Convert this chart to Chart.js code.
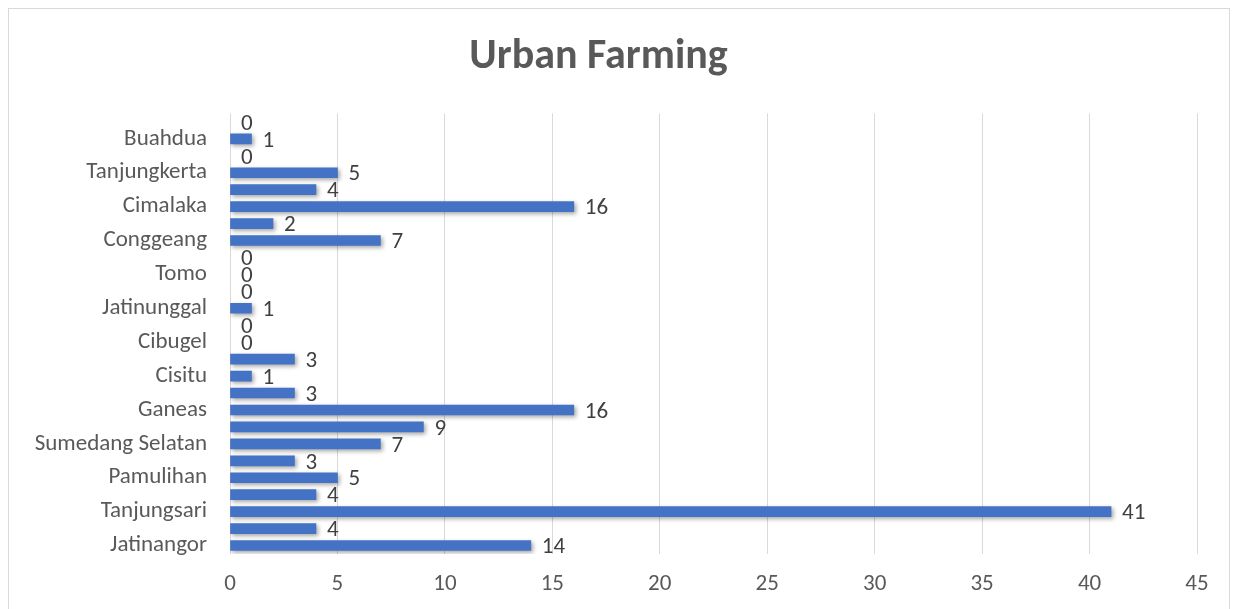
<!DOCTYPE html>
<html>
<head>
<meta charset="utf-8">
<script src="https://cdn.jsdelivr.net/npm/chart.js@4/dist/chart.umd.min.js"></script>
<style>
  html, body { margin: 0; padding: 0; background: #fff; }
  #frame { position: absolute; left: 8px; top: 8px; width: 1222px; height: 610px; border: 1px solid #d9d9d9; box-sizing: border-box; }
  #wrap { position: absolute; left: 0; top: 0; width: 1238px; height: 609px; }
</style>
</head>
<body>
<div id="frame"></div>
<div id="wrap"><canvas id="myChart"></canvas></div>
<script>
// kecamatan di Sumedang, dari bawah ke atas
var kecamatan = ['Jatinangor', 'Cimanggung', 'Tanjungsari', 'Sukasari', 'Pamulihan', 'Rancakalong',
    'Sumedang Selatan', 'Sumedang Utara', 'Ganeas', 'Situraja', 'Cisitu', 'Darmaraja',
    'Cibugel', 'Wado', 'Jatinunggal', 'Jatigede', 'Tomo', 'Ujungjaya', 'Conggeang', 'Paseh',
    'Cimalaka', 'Cisarua', 'Tanjungkerta', 'Tanjungmedar', 'Buahdua', 'Surian'];
var jumlah = [14, 4, 41, 4, 5, 3, 7, 9, 16, 3, 1, 3, 0, 0, 1, 0, 0, 0, 7, 2, 16, 4, 5, 0, 1, 0];
var xTicks = [0, 5, 10, 15, 20, 25, 30, 35, 40, 45];

var fontName = "Carlito, Lato, 'Liberation Sans', sans-serif";
var abu = '#595959';

// label angka di ujung bar
var labelBar = {
    id: 'labelBar',
    afterDatasetsDraw: function (chart) {
        var ctx = chart.ctx;
        var meta = chart.getDatasetMeta(0);
        ctx.save();
        ctx.font = '23px ' + fontName;
        ctx.fillStyle = '#404040';
        ctx.textAlign = 'left';
        ctx.textBaseline = 'middle';
        meta.data.forEach(function (bar, i) {
            ctx.fillText(String(jumlah[i]), bar.x + 11, bar.y + 2);
        });
        ctx.restore();
    }
};

// bayangan bar
var bayangan = {
    id: 'bayangan',
    beforeDatasetDraw: function (chart) {
        var ctx = chart.ctx;
        ctx.save();
        ctx.shadowColor = 'rgba(0,0,0,0.35)';
        ctx.shadowBlur = 4;
        ctx.shadowOffsetX = 2;
        ctx.shadowOffsetY = 2;
    },
    afterDatasetDraw: function (chart) {
        chart.ctx.restore();
    }
};

var ctx = document.getElementById('myChart');

var chartGraph = new Chart(ctx, {
    type: 'bar',
    data: {
        labels: kecamatan,
        datasets: [{
            label: 'Urban Farming',
            data: jumlah,
            backgroundColor: function (c) {
                return jumlah[c.dataIndex] === 0 ? 'rgba(0,0,0,0)' : '#4472C4';
            },
            borderWidth: 0,
            barThickness: 10
        }]
    },
    options: {
        indexAxis: 'y',
        responsive: true,
        maintainAspectRatio: false,
        animation: false,
        layout: { padding: { left: 0, right: 41, top: 0, bottom: 0 } },
        plugins: {
            legend: { display: false },
            tooltip: { enabled: false },
            title: {
                display: true,
                text: 'Urban Farming',
                color: abu,
                font: { family: fontName, size: 42, weight: 'bold' },
                padding: { top: 32, bottom: 31 }
            }
        },
        scales: {
            x: {
                min: 0,
                max: 45,
                afterBuildTicks: function (scale) {
                    scale.ticks = xTicks.map(function (v) { return { value: v }; });
                },
                afterFit: function (scale) { scale.height = 55; },
                grid: { color: '#d9d9d9', drawTicks: false },
                border: { display: false },
                ticks: { color: abu, font: { family: fontName, size: 23 }, padding: 16 }
            },
            y: {
                reverse: true,
                afterFit: function (scale) { scale.width = 230; },
                grid: { display: false, drawTicks: false },
                border: { display: false },
                ticks: {
                    autoSkip: false,
                    color: abu,
                    font: { family: fontName, size: 23 },
                    padding: 23,
                    callback: function (val, i) {
                        return i % 2 === 0 ? this.getLabelForValue(val) : '';
                    }
                }
            }
        }
    },
    plugins: [bayangan, labelBar]
});
</script>
</body>
</html>
